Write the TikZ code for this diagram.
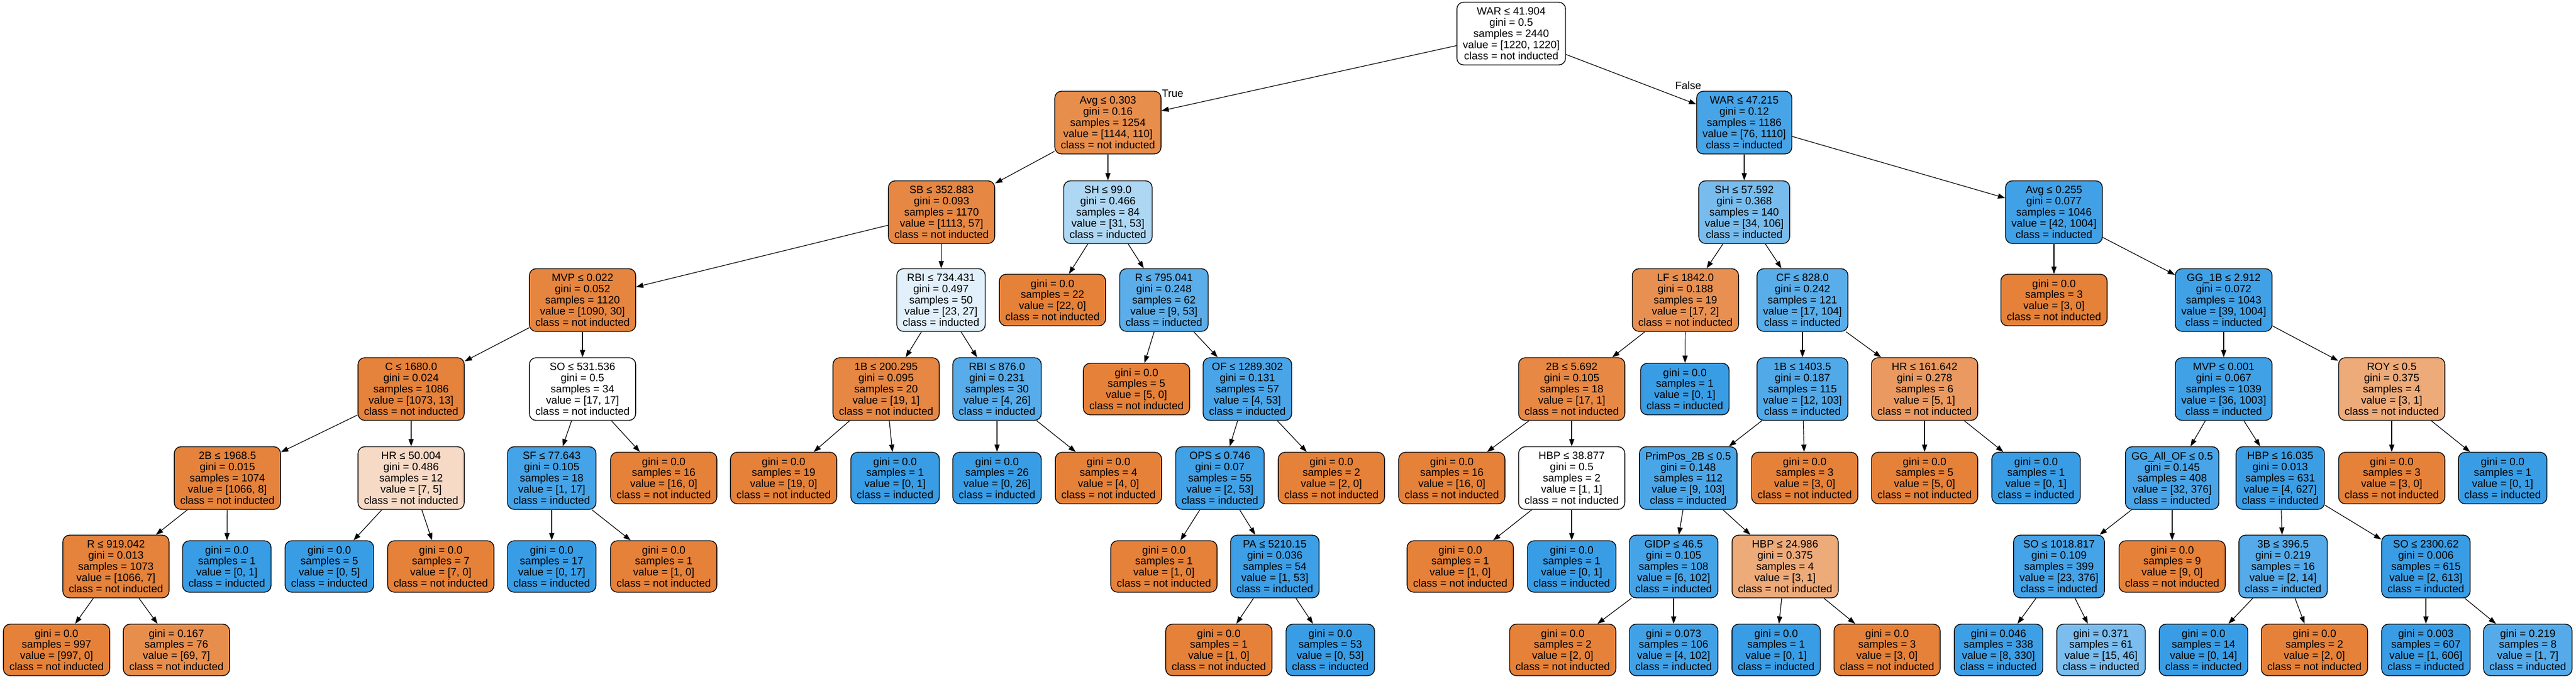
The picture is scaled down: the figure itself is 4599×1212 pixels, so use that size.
\documentclass[tikz,border=0pt]{standalone}
\usepackage{fontspec}
\setmainfont{Liberation Sans}
\usetikzlibrary{arrows.meta}
\definecolor{cO}{HTML}{E58139}
\definecolor{cB}{HTML}{399DE5}
\begin{document}
\begin{tikzpicture}[x=0.5pt,y=-0.5pt,
  box/.style={draw=black, line width=0.7pt, rounded corners=6pt, align=center,
    inner xsep=5.3pt, inner ysep=2pt, font=\fontsize{9.5pt}{9.9pt}\selectfont},
  inode/.style={box, minimum height=56pt},
  leaf/.style={box, minimum height=46pt},
  conn/.style={draw=black, line width=0.6pt, -{Triangle[length=6.5pt,width=4.6pt]}},
  elabel/.style={font=\fontsize{9.5pt}{9.9pt}\selectfont, inner sep=0pt}]
\fill[white] (0,0) rectangle (4599,1212);
\useasboundingbox (0,0) rectangle (4599,1212);
% level 0
\node[inode, fill=white] (n0) at (2698,60) {WAR ≤ 41.904\\gini = 0.5\\samples = 2440\\value = [1220, 1220]\\class = not inducted};
% level 1
\node[inode, fill=cO!90] (n1) at (1978,219) {Avg ≤ 0.303\\gini = 0.16\\samples = 1254\\value = [1144, 110]\\class = not inducted};
\node[inode, fill=cB!93] (n2) at (3114,219) {WAR ≤ 47.215\\gini = 0.12\\samples = 1186\\value = [76, 1110]\\class = inducted};
% level 2
\node[inode, fill=cO!95] (n3) at (1681,379) {SB ≤ 352.883\\gini = 0.093\\samples = 1170\\value = [1113, 57]\\class = not inducted};
\node[inode, fill=cB!41] (n4) at (1978,379) {SH ≤ 99.0\\gini = 0.466\\samples = 84\\value = [31, 53]\\class = inducted};
\node[inode, fill=cB!68] (n5) at (3114,379) {SH ≤ 57.592\\gini = 0.368\\samples = 140\\value = [34, 106]\\class = inducted};
\node[inode, fill=cB!96] (n6) at (3667,379) {Avg ≤ 0.255\\gini = 0.077\\samples = 1046\\value = [42, 1004]\\class = inducted};
% level 3
\node[inode, fill=cO!97] (n7) at (1040,536) {MVP ≤ 0.022\\gini = 0.052\\samples = 1120\\value = [1090, 30]\\class = not inducted};
\node[inode, fill=cB!15] (n8) at (1680,536) {RBI ≤ 734.431\\gini = 0.497\\samples = 50\\value = [23, 27]\\class = inducted};
\node[leaf, fill=cO] (n9) at (1879,536) {gini = 0.0\\samples = 22\\value = [22, 0]\\class = not inducted};
\node[inode, fill=cB!83] (n10) at (2078,536) {R ≤ 795.041\\gini = 0.248\\samples = 62\\value = [9, 53]\\class = inducted};
\node[inode, fill=cO!88] (n11) at (3009,536) {LF ≤ 1842.0\\gini = 0.188\\samples = 19\\value = [17, 2]\\class = not inducted};
\node[inode, fill=cB!84] (n12) at (3218,536) {CF ≤ 828.0\\gini = 0.242\\samples = 121\\value = [17, 104]\\class = inducted};
\node[leaf, fill=cO] (n13) at (3667,536) {gini = 0.0\\samples = 3\\value = [3, 0]\\class = not inducted};
\node[inode, fill=cB!96] (n14) at (3970,536) {GG\_1B ≤ 2.912\\gini = 0.072\\samples = 1043\\value = [39, 1004]\\class = inducted};
% level 4
\node[inode, fill=cO!99] (n15) at (734,695) {C ≤ 1680.0\\gini = 0.024\\samples = 1086\\value = [1073, 13]\\class = not inducted};
\node[inode, fill=white] (n16) at (1040,695) {SO ≤ 531.536\\gini = 0.5\\samples = 34\\value = [17, 17]\\class = not inducted};
\node[inode, fill=cO!95] (n17) at (1582,695) {1B ≤ 200.295\\gini = 0.095\\samples = 20\\value = [19, 1]\\class = not inducted};
\node[inode, fill=cB!85] (n18) at (1780,695) {RBI ≤ 876.0\\gini = 0.231\\samples = 30\\value = [4, 26]\\class = inducted};
\node[leaf, fill=cO] (n19) at (2029,695) {gini = 0.0\\samples = 5\\value = [5, 0]\\class = not inducted};
\node[inode, fill=cB!92] (n20) at (2227,695) {OF ≤ 1289.302\\gini = 0.131\\samples = 57\\value = [4, 53]\\class = inducted};
\node[inode, fill=cO!94] (n21) at (2806,695) {2B ≤ 5.692\\gini = 0.105\\samples = 18\\value = [17, 1]\\class = not inducted};
\node[leaf, fill=cB] (n22) at (3008,695) {gini = 0.0\\samples = 1\\value = [0, 1]\\class = inducted};
\node[inode, fill=cB!88] (n23) at (3218,695) {1B ≤ 1403.5\\gini = 0.187\\samples = 115\\value = [12, 103]\\class = inducted};
\node[inode, fill=cO!80] (n24) at (3436,695) {HR ≤ 161.642\\gini = 0.278\\samples = 6\\value = [5, 1]\\class = not inducted};
\node[inode, fill=cB!96] (n25) at (3970,695) {MVP ≤ 0.001\\gini = 0.067\\samples = 1039\\value = [36, 1003]\\class = inducted};
\node[inode, fill=cO!67] (n26) at (4270,695) {ROY ≤ 0.5\\gini = 0.375\\samples = 4\\value = [3, 1]\\class = not inducted};
% level 5
\node[inode, fill=cO!99] (n27) at (406,854) {2B ≤ 1968.5\\gini = 0.015\\samples = 1074\\value = [1066, 8]\\class = not inducted};
\node[inode, fill=cO!29] (n28) at (734,854) {HR ≤ 50.004\\gini = 0.486\\samples = 12\\value = [7, 5]\\class = not inducted};
\node[inode, fill=cB!94] (n29) at (985,854) {SF ≤ 77.643\\gini = 0.105\\samples = 18\\value = [1, 17]\\class = inducted};
\node[leaf, fill=cO] (n30) at (1185,854) {gini = 0.0\\samples = 16\\value = [16, 0]\\class = not inducted};
\node[leaf, fill=cO] (n31) at (1399,854) {gini = 0.0\\samples = 19\\value = [19, 0]\\class = not inducted};
\node[leaf, fill=cB] (n32) at (1598,854) {gini = 0.0\\samples = 1\\value = [0, 1]\\class = inducted};
\node[leaf, fill=cB] (n33) at (1780,854) {gini = 0.0\\samples = 26\\value = [0, 26]\\class = inducted};
\node[leaf, fill=cO] (n34) at (1979,854) {gini = 0.0\\samples = 4\\value = [4, 0]\\class = not inducted};
\node[inode, fill=cB!96] (n35) at (2178,854) {OPS ≤ 0.746\\gini = 0.07\\samples = 55\\value = [2, 53]\\class = inducted};
\node[leaf, fill=cO] (n36) at (2377,854) {gini = 0.0\\samples = 2\\value = [2, 0]\\class = not inducted};
\node[leaf, fill=cO] (n37) at (2592,854) {gini = 0.0\\samples = 16\\value = [16, 0]\\class = not inducted};
\node[inode, fill=white] (n38) at (2806,854) {HBP ≤ 38.877\\gini = 0.5\\samples = 2\\value = [1, 1]\\class = not inducted};
\node[inode, fill=cB!91] (n39) at (3014,854) {PrimPos\_2B ≤ 0.5\\gini = 0.148\\samples = 112\\value = [9, 103]\\class = inducted};
\node[leaf, fill=cO] (n40) at (3222,854) {gini = 0.0\\samples = 3\\value = [3, 0]\\class = not inducted};
\node[leaf, fill=cO] (n41) at (3436,854) {gini = 0.0\\samples = 5\\value = [5, 0]\\class = not inducted};
\node[leaf, fill=cB] (n42) at (3635,854) {gini = 0.0\\samples = 1\\value = [0, 1]\\class = inducted};
\node[inode, fill=cB!92] (n43) at (3878,854) {GG\_All\_OF ≤ 0.5\\gini = 0.145\\samples = 408\\value = [32, 376]\\class = inducted};
\node[inode, fill=cB!99] (n44) at (4071,854) {HBP ≤ 16.035\\gini = 0.013\\samples = 631\\value = [4, 627]\\class = inducted};
\node[leaf, fill=cO] (n45) at (4270,854) {gini = 0.0\\samples = 3\\value = [3, 0]\\class = not inducted};
\node[leaf, fill=cB] (n46) at (4468,854) {gini = 0.0\\samples = 1\\value = [0, 1]\\class = inducted};
% level 6
\node[inode, fill=cO!99] (n47) at (207,1012) {R ≤ 919.042\\gini = 0.013\\samples = 1073\\value = [1066, 7]\\class = not inducted};
\node[leaf, fill=cB] (n48) at (405,1012) {gini = 0.0\\samples = 1\\value = [0, 1]\\class = inducted};
\node[leaf, fill=cB] (n49) at (588,1012) {gini = 0.0\\samples = 5\\value = [0, 5]\\class = inducted};
\node[leaf, fill=cO] (n50) at (787,1012) {gini = 0.0\\samples = 7\\value = [7, 0]\\class = not inducted};
\node[leaf, fill=cB] (n51) at (985,1012) {gini = 0.0\\samples = 17\\value = [0, 17]\\class = inducted};
\node[leaf, fill=cO] (n52) at (1185,1012) {gini = 0.0\\samples = 1\\value = [1, 0]\\class = not inducted};
\node[leaf, fill=cO] (n53) at (2078,1012) {gini = 0.0\\samples = 1\\value = [1, 0]\\class = not inducted};
\node[inode, fill=cB!98] (n54) at (2276,1012) {PA ≤ 5210.15\\gini = 0.036\\samples = 54\\value = [1, 53]\\class = inducted};
\node[leaf, fill=cO] (n55) at (2607,1012) {gini = 0.0\\samples = 1\\value = [1, 0]\\class = not inducted};
\node[leaf, fill=cB] (n56) at (2806,1012) {gini = 0.0\\samples = 1\\value = [0, 1]\\class = inducted};
\node[inode, fill=cB!94] (n57) at (2988,1012) {GIDP ≤ 46.5\\gini = 0.105\\samples = 108\\value = [6, 102]\\class = inducted};
\node[inode, fill=cO!67] (n58) at (3187,1012) {HBP ≤ 24.986\\gini = 0.375\\samples = 4\\value = [3, 1]\\class = not inducted};
\node[inode, fill=cB!94] (n59) at (3676,1012) {SO ≤ 1018.817\\gini = 0.109\\samples = 399\\value = [23, 376]\\class = inducted};
\node[leaf, fill=cO] (n60) at (3878,1012) {gini = 0.0\\samples = 9\\value = [9, 0]\\class = not inducted};
\node[inode, fill=cB!86] (n61) at (4076,1012) {3B ≤ 396.5\\gini = 0.219\\samples = 16\\value = [2, 14]\\class = inducted};
\node[inode, fill=cB] (n62) at (4331,1012) {SO ≤ 2300.62\\gini = 0.006\\samples = 615\\value = [2, 613]\\class = inducted};
% level 7
\node[leaf, fill=cO] (n63) at (101,1161) {gini = 0.0\\samples = 997\\value = [997, 0]\\class = not inducted};
\node[leaf, fill=cO!90] (n64) at (315,1161) {gini = 0.167\\samples = 76\\value = [69, 7]\\class = not inducted};
\node[leaf, fill=cO] (n65) at (2176,1161) {gini = 0.0\\samples = 1\\value = [1, 0]\\class = not inducted};
\node[leaf, fill=cB] (n66) at (2375,1161) {gini = 0.0\\samples = 53\\value = [0, 53]\\class = inducted};
\node[leaf, fill=cO] (n67) at (2790,1161) {gini = 0.0\\samples = 2\\value = [2, 0]\\class = not inducted};
\node[leaf, fill=cB!96] (n68) at (2988,1161) {gini = 0.073\\samples = 106\\value = [4, 102]\\class = inducted};
\node[leaf, fill=cB] (n69) at (3171,1161) {gini = 0.0\\samples = 1\\value = [0, 1]\\class = inducted};
\node[leaf, fill=cO] (n70) at (3369,1161) {gini = 0.0\\samples = 3\\value = [3, 0]\\class = not inducted};
\node[leaf, fill=cB!98] (n71) at (3568,1161) {gini = 0.046\\samples = 338\\value = [8, 330]\\class = inducted};
\node[leaf, fill=cB!67] (n72) at (3751,1161) {gini = 0.371\\samples = 61\\value = [15, 46]\\class = inducted};
\node[leaf, fill=cB] (n73) at (3934,1161) {gini = 0.0\\samples = 14\\value = [0, 14]\\class = inducted};
\node[leaf, fill=cO] (n74) at (4132,1161) {gini = 0.0\\samples = 2\\value = [2, 0]\\class = not inducted};
\node[leaf, fill=cB] (n75) at (4331,1161) {gini = 0.003\\samples = 607\\value = [1, 606]\\class = inducted};
\node[leaf, fill=cB!86] (n76) at (4513,1161) {gini = 0.219\\samples = 8\\value = [1, 7]\\class = inducted};
% connectors
\foreach \a/\b in {n0/n1,n0/n2,n1/n3,n1/n4,n3/n7,n3/n8,n7/n15,n7/n16,n15/n27,n15/n28,
  n27/n47,n27/n48,n47/n63,n47/n64,n28/n49,n28/n50,n16/n29,n16/n30,n29/n51,n29/n52,
  n8/n17,n8/n18,n17/n31,n17/n32,n18/n33,n18/n34,n4/n9,n4/n10,n10/n19,n10/n20,
  n20/n35,n20/n36,n35/n53,n35/n54,n54/n65,n54/n66,n2/n5,n2/n6,n5/n11,n5/n12,
  n11/n21,n11/n22,n21/n37,n21/n38,n38/n55,n38/n56,n12/n23,n12/n24,n23/n39,n23/n40,
  n39/n57,n39/n58,n57/n67,n57/n68,n58/n69,n58/n70,n24/n41,n24/n42,n6/n13,n6/n14,
  n14/n25,n14/n26,n25/n43,n25/n44,n43/n59,n43/n60,n59/n71,n59/n72,n44/n61,n44/n62,
  n61/n73,n61/n74,n62/n75,n62/n76,n26/n45,n26/n46}
  \draw[conn] (\a) -- (\b);
% edge labels
\node[elabel, anchor=west] (ltrue) at (2074,167) {True};
\node[elabel] (lfalse) at (3014,153) {False};
\end{tikzpicture}
\end{document}
